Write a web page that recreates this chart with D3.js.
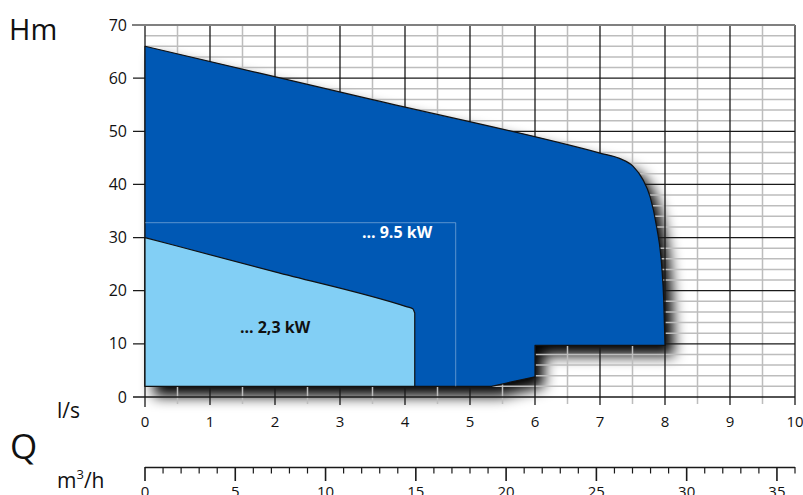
<!DOCTYPE html>
<html>
<head>
<meta charset="utf-8">
<script src="https://cdn.jsdelivr.net/npm/d3@7"></script>
<style>
  body { margin: 0; background: #fff; }
  svg { display: block; font-family: "Open Sans", sans-serif; }
</style>
</head>
<body>
<svg id="chart" width="803" height="495"></svg>
<script>
// Pump performance envelopes: Q in l/s, H in m
const flowTicks = d3.range(0, 11);          // l/s
const headTicks = d3.range(0, 80, 10);      // m
const m3hTicks = d3.range(0, 37);           // m3/h
const m3hLabels = [0, 5, 10, 15, 20, 25, 30, 35];

// 9.5 kW envelope: upper curve then the bottom outline
const bigTop = [[0, 66], [3.5, 55.95], [7.0, 45.9], [7.3, 44.9], [7.51, 43.4], [7.66, 40.9], [7.77, 37.7],
  [7.87, 32.1], [7.95, 24.5], [7.98, 18.3], [8.0, 9.7]];
const bigBottom = [[6.0, 9.7], [6.0, 3.8], [5.33, 2], [0, 2]];

// 2.3 kW envelope
const smallTop = [[0, 30], [2.0, 23.53], [4.02, 17.0], [4.12, 16.6], [4.15, 15.8]];
const smallBottom = [[4.15, 2], [0, 2]];

// faint frame around the 9.5 kW label area
const frame = [[0, 32.8], [4.78, 32.8], [4.78, 2]];

const svg = d3.select('#chart');
const x = d3.scaleLinear().domain([0, 10]).range([145, 795]);
const y = d3.scaleLinear().domain([0, 70]).range([397, 25]);
const xm = d3.scaleLinear().domain([0, 36]).range([145, 795]);

const curved = d3.line().x(d => x(d[0])).y(d => y(d[1])).curve(d3.curveMonotoneX);
const straight = d3.line().x(d => x(d[0])).y(d => y(d[1]));
const shapePath = (top, bottom) => curved(top) + straight(bottom).replace(/^M/, 'L') + 'Z';

// drop shadow
const defs = svg.append('defs');
const f = defs.append('filter').attr('id', 'shadow')
  .attr('x', '-10%').attr('y', '-10%').attr('width', '130%').attr('height', '130%');
f.append('feGaussianBlur').attr('in', 'SourceAlpha').attr('stdDeviation', 7);
f.append('feOffset').attr('dx', 9).attr('dy', 10);
f.append('feComponentTransfer').append('feFuncA').attr('type', 'linear').attr('slope', 1);

svg.append('path')
  .attr('d', shapePath(bigTop, bigBottom))
  .attr('fill', '#000')
  .attr('filter', 'url(#shadow)');

// grid
const grid = svg.append('g');
d3.range(0.5, 10, 1).forEach(v => {
  grid.append('line').attr('x1', x(v)).attr('x2', x(v)).attr('y1', y(70)).attr('y2', y(0) + 7)
    .attr('stroke', '#bdbdbd').attr('stroke-width', 1.5);
});
d3.range(2, 70, 2).filter(v => v % 10 !== 0).forEach(v => {
  grid.append('line').attr('x1', x(0)).attr('x2', x(10)).attr('y1', y(v)).attr('y2', y(v))
    .attr('stroke', '#bdbdbd').attr('stroke-width', 1.5);
});
d3.range(10, 70, 10).forEach(v => {
  grid.append('line').attr('x1', x(0) - 12).attr('x2', x(10)).attr('y1', y(v)).attr('y2', y(v))
    .attr('stroke', '#1a1a1a').attr('stroke-width', 1.3);
});
flowTicks.forEach(v => {
  grid.append('line').attr('x1', x(v)).attr('x2', x(v)).attr('y1', y(70)).attr('y2', y(0) + (v === 0 ? 10 : 8))
    .attr('stroke', '#1a1a1a').attr('stroke-width', 1.3);
});
grid.append('line').attr('x1', x(0) - 13).attr('x2', x(10)).attr('y1', y(70)).attr('y2', y(70))
  .attr('stroke', '#808080').attr('stroke-width', 2);
grid.append('line').attr('x1', x(0) - 12).attr('x2', x(10)).attr('y1', y(0)).attr('y2', y(0))
  .attr('stroke', '#1a1a1a').attr('stroke-width', 1.3);

// envelopes
svg.append('path')
  .attr('d', shapePath(bigTop, bigBottom))
  .attr('fill', '#0058b4').attr('stroke', '#111').attr('stroke-width', 1.2)
  .attr('stroke-linejoin', 'round');
svg.append('path')
  .attr('d', straight(frame))
  .attr('fill', 'none').attr('stroke', 'rgba(255,255,255,0.35)').attr('stroke-width', 1);
svg.append('path')
  .attr('d', shapePath(smallTop, smallBottom))
  .attr('fill', '#82cff5').attr('stroke', '#111').attr('stroke-width', 1.2)
  .attr('stroke-linejoin', 'round');

svg.append('text').attr('x', 397).attr('y', 238).attr('text-anchor', 'middle')
  .attr('font-size', 16).attr('font-weight', 700).attr('fill', '#fff').text('... 9.5 kW');
svg.append('text').attr('x', 275).attr('y', 333).attr('text-anchor', 'middle')
  .attr('font-size', 16).attr('font-weight', 700).attr('fill', '#111').text('... 2,3 kW');

// axis labels
const labels = svg.append('g').attr('fill', '#111');
headTicks.forEach(v => {
  labels.append('text').attr('x', 127).attr('y', y(v)).attr('dy', '0.35em')
    .attr('text-anchor', 'end').attr('font-size', 16).text(v);
});
flowTicks.forEach(v => {
  labels.append('text').attr('x', x(v)).attr('y', 427)
    .attr('text-anchor', 'middle').attr('font-size', 15).text(v);
});

// m3/h scale
const m3 = svg.append('g');
m3.append('line').attr('x1', xm(0)).attr('x2', xm(36)).attr('y1', 467.5).attr('y2', 467.5)
  .attr('stroke', '#1a1a1a').attr('stroke-width', 1.3);
m3hTicks.forEach(v => {
  const major = v % 5 === 0;
  m3.append('line').attr('x1', xm(v)).attr('x2', xm(v)).attr('y1', 467).attr('y2', major ? 481 : 473.5)
    .attr('stroke', '#1a1a1a').attr('stroke-width', major ? 1.6 : 1.2);
});
m3hLabels.forEach(v => {
  m3.append('text').attr('x', xm(v)).attr('y', 497).attr('text-anchor', 'middle')
    .attr('font-size', 15).attr('fill', '#111').text(v);
});

labels.append('text').attr('x', 9).attr('y', 40).attr('font-size', 29).text('Hm');
labels.append('text').attr('x', 57).attr('y', 418).attr('font-size', 21).text('l/s');
labels.append('text').attr('x', 10).attr('y', 459).attr('font-size', 35).text('Q');
const mh = labels.append('text').attr('x', 57).attr('y', 488).attr('font-size', 21);
mh.append('tspan').text('m');
mh.append('tspan').attr('font-size', 13).attr('dy', -9).text('3');
mh.append('tspan').attr('dy', 9).text('/h');
</script>
</body>
</html>
